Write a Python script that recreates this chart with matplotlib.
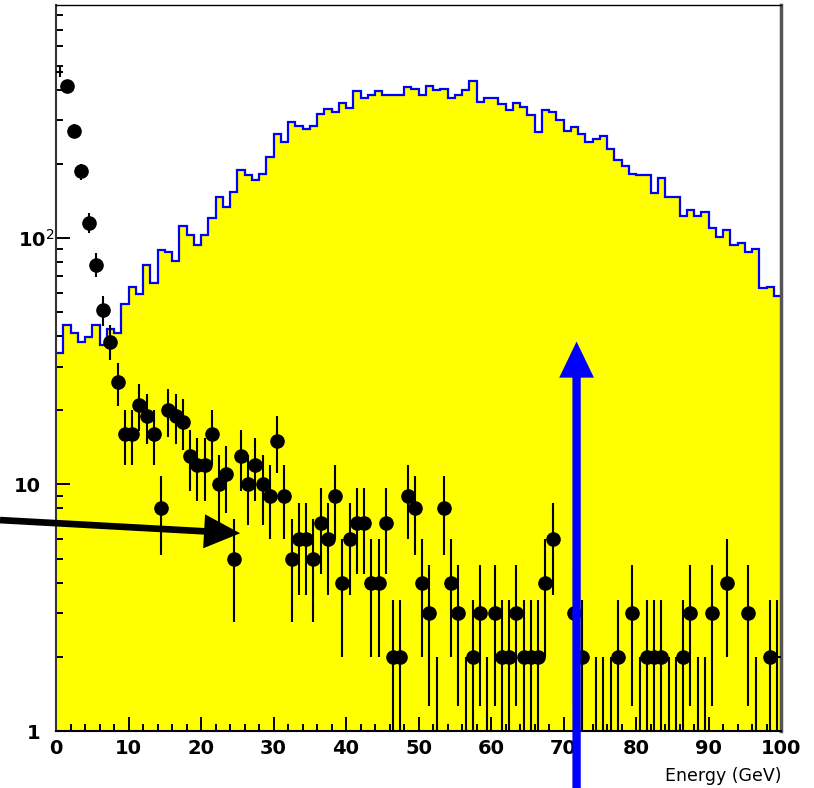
import numpy as np
import matplotlib
matplotlib.use("Agg")
import matplotlib.pyplot as plt
from matplotlib.ticker import NullFormatter, LogLocator
from matplotlib.transforms import ScaledTranslation

plt.rcParams['font.family'] = ['DejaVu Sans']

# yellow histogram, 1 GeV bins from 0 to 100
bin_edges = np.arange(0, 101, 1)
mc_counts = [34.3, 44.4, 41.1, 38.0, 39.6, 44.4, 36.8, 42.7, 41.1, 54,
             63, 59, 78, 65.5, 89, 88, 81, 112, 103, 94,
             103, 121, 147, 133, 154, 189, 180, 172, 182, 212,
             264, 245, 294, 285, 276, 285, 318, 334, 325, 352,
             336, 396, 369, 380, 396, 380, 380, 380, 411, 402,
             380, 415, 398, 402, 368, 380, 398, 435, 356, 368,
             368, 349, 330, 352, 341, 315, 268, 330, 325, 301,
             272, 283, 264, 246, 251, 258, 229, 207, 196, 182,
             180, 180, 152, 175, 146, 147, 123, 130, 123, 128,
             110, 101, 108, 94, 95, 87.5, 90, 62.5, 63.5, 58.3]

# data points at bin centres (0 = empty bin)
data_x = np.arange(0.5, 100, 1.0)
data_counts = [470, 414, 272, 186, 115, 78, 51, 38, 26, 16,
               16, 21, 19, 16, 8, 20, 19, 18, 13, 12,
               12, 16, 10, 11, 5, 13, 10, 12, 10, 9,
               15, 9, 5, 6, 6, 5, 7, 6, 9, 4,
               6, 7, 7, 4, 4, 7, 2, 2, 9, 8,
               4, 3, 1, 8, 4, 3, 1, 2, 3, 1,
               3, 2, 2, 3, 2, 2, 2, 4, 6, 0,
               0, 3, 2, 0, 1, 1, 1, 2, 0, 3,
               1, 2, 2, 2, 1, 1, 2, 3, 1, 1,
               3, 0, 4, 0, 0, 3, 1, 0, 2, 2]

y_ticks = [1, 10, 100]
y_ticklabels = ['1', '10', '10$^{2}$']

# arrow tips (data coords) and tails (figure fraction)
black_tip = (25.4, 6.34)
black_tail = (0.0, 0.340)
blue_tip = (71.8, 38.0)

fig = plt.figure(figsize=(8.14, 7.88), dpi=100)
ax = fig.add_axes([0.0688, 0.0723, 0.8907, 0.9214])

ax.stairs(mc_counts, bin_edges, fill=True, color='#ffff00', baseline=0.01, zorder=1)
ax.stairs(mc_counts, bin_edges, baseline=None, color='#0000ff', lw=1.6, zorder=2)

x = np.asarray(data_x)
n = np.asarray(data_counts, dtype=float)
m = n > 0
err_up = np.sqrt(n[m])
err_lo = np.minimum(np.sqrt(n[m]), n[m] - 0.01)
ax.errorbar(x[m], n[m], yerr=[err_lo, err_up], xerr=0.5, fmt='none',
            ecolor='black', elinewidth=1.5, capsize=0, zorder=3)
# ROOT skips markers that would cross the frame
mk = (n > 1) & (x > 1) & (x < 99)
ax.plot(x[mk], n[mk], 'o', color='black', ms=9.5, zorder=4)

ax.set_yscale('log')
ax.set_xlim(0, 100)
ax.set_ylim(1, 881)
ax.set_xticks(np.arange(0, 101, 10))
ax.set_xticks(np.arange(0, 101, 2), minor=True)
ax.set_yticks(y_ticks)
ax.set_yticklabels(y_ticklabels)
ax.yaxis.set_minor_locator(LogLocator(base=10, subs=np.arange(2, 10)))
ax.yaxis.set_minor_formatter(NullFormatter())

ax.tick_params(which='both', direction='in', top=False, right=False, width=1.4)
ax.tick_params(which='major', length=10, labelsize=14)
ax.tick_params(which='minor', length=5)
ax.tick_params(axis='x', pad=6)
ax.tick_params(axis='y', pad=11)
for lab in ax.get_xticklabels() + ax.get_yticklabels():
    lab.set_fontweight('bold')
# exponent label: keep the "10" aligned with the others, exponent sticks out
lab = ax.get_yticklabels()[2]
lab.set_transform(lab.get_transform() + ScaledTranslation(10 / 72, 0, fig.dpi_scale_trans))

ax.spines['left'].set_color('#333333')
ax.spines['left'].set_linewidth(1.5)
ax.spines['bottom'].set_linewidth(1.5)
ax.spines['right'].set_color('#555555')
ax.spines['right'].set_linewidth(2.5)
ax.spines['top'].set_linewidth(1.0)

ax.set_xlabel('Energy (GeV)', loc='right', fontsize=12.5, labelpad=6)

ax.annotate('', xy=black_tip, xycoords='data', xytext=black_tail,
            textcoords='figure fraction', annotation_clip=False, zorder=6,
            arrowprops=dict(arrowstyle='simple,head_length=26,head_width=24.5,tail_width=4.8',
                            mutation_scale=1, color='black', lw=0, shrinkA=0, shrinkB=0))
ax.annotate('', xy=blue_tip, xycoords='data', xytext=(blue_tip[0], 0.0),
            textcoords=('data', 'figure fraction'), annotation_clip=False, zorder=6,
            arrowprops=dict(arrowstyle='simple,head_length=26,head_width=25,tail_width=6',
                            mutation_scale=1, color='#0000ff', lw=0, shrinkA=0, shrinkB=0))

fig.savefig('out.png', dpi=100)
